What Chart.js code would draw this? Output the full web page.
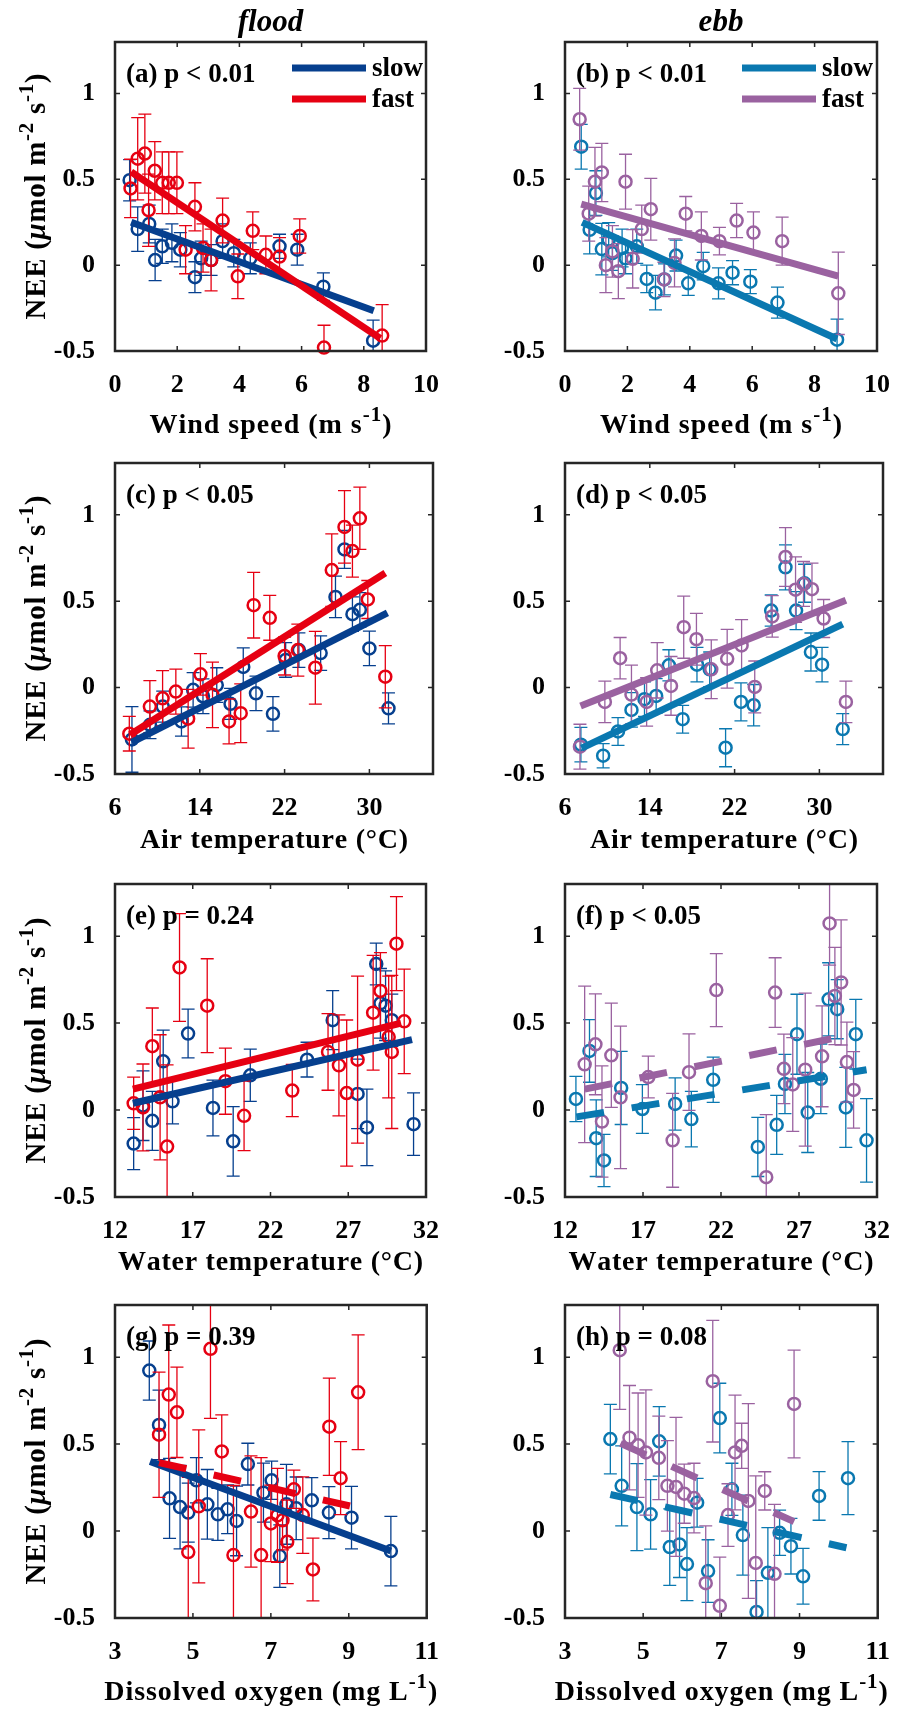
<!DOCTYPE html>
<html>
<head>
<meta charset="utf-8">
<script src="https://cdn.jsdelivr.net/npm/chart.js@4/dist/chart.umd.min.js"></script>
<style>
  body { margin: 0; background: #fff; }
  #wrap { position: relative; width: 901px; height: 1711px; }
  #wrap canvas { position: absolute; }
</style>
</head>
<body>
<div id="wrap"></div>
<script>
// ---- tick labels ----
const yTicks = [-0.5, 0, 0.5, 1];
const windTicks = [0, 2, 4, 6, 8, 10];
const airTicks = [6, 14, 22, 30];
const waterTicks = [12, 17, 22, 27, 32];
const doTicks = [3, 5, 7, 9, 11];

// ---- (a) flood, wind speed ----
const aSlowX = [0.47, 0.73, 1.1, 1.29, 1.52, 1.83, 2.1, 2.57, 2.77, 3.09, 3.46, 3.82, 4.35, 5.29, 5.86, 6.70, 8.3];
const aSlowY = [0.495, 0.21, 0.24, 0.03, 0.11, 0.13, 0.09, -0.07, 0.04, 0.03, 0.14, 0.07, 0.04, 0.11, 0.09, -0.125, -0.44];
const aSlowE = [0.12, 0.13, 0.11, 0.12, 0.1, 0.11, 0.1, 0.09, 0.1, 0.09, 0.1, 0.08, 0.09, 0.07, 0.09, 0.08, 0.12];
const aFastX = [0.5, 0.73, 0.96, 1.08, 1.28, 1.52, 1.73, 1.99, 2.27, 2.57, 2.83, 3.09, 3.46, 3.95, 4.43, 4.85, 5.29, 5.94, 6.72, 8.59];
const aFastY = [0.447, 0.62, 0.65, 0.32, 0.55, 0.48, 0.48, 0.48, 0.09, 0.34, 0.10, 0.03, 0.26, -0.065, 0.2, 0.06, 0.05, 0.17, -0.48, -0.41];
const aFastE = [0.17, 0.24, 0.23, 0.21, 0.17, 0.18, 0.18, 0.18, 0.14, 0.14, 0.14, 0.18, 0.13, 0.13, 0.11, 0.11, 0.11, 0.1, 0.13, 0.18];
const aSlowFitX = [0.52, 8.32], aSlowFitY = [0.25, -0.266];
const aFastFitX = [0.52, 8.53], aFastFitY = [0.543, -0.426];

// ---- (b) ebb, wind speed ----
const bSlowX = [0.52, 0.79, 0.99, 1.18, 1.4, 1.52, 1.83, 1.94, 2.30, 2.62, 2.90, 3.19, 3.56, 3.95, 4.43, 4.92, 5.37, 5.94, 6.81, 8.72];
const bSlowY = [0.69, 0.206, 0.42, 0.094, 0.148, 0.07, 0.10, 0.04, 0.11, -0.08, -0.16, -0.083, 0.056, -0.106, -0.006, -0.106, -0.044, -0.096, -0.218, -0.434];
const bSlowE = [0.13, 0.14, 0.13, 0.15, 0.1, 0.1, 0.11, 0.09, 0.1, 0.08, 0.1, 0.09, 0.09, 0.07, 0.08, 0.09, 0.07, 0.07, 0.09, 0.12];
const bFastX = [0.47, 0.76, 0.96, 1.18, 1.31, 1.52, 1.71, 1.94, 2.17, 2.46, 2.75, 3.17, 3.51, 3.87, 4.37, 4.95, 5.50, 6.04, 6.96, 8.76];
const bFastY = [0.85, 0.30, 0.486, 0.54, 0.0, 0.08, -0.035, 0.486, 0.037, 0.21, 0.326, -0.083, 0.013, 0.30, 0.17, 0.14, 0.26, 0.19, 0.14, -0.164];
const bFastE = [0.18, 0.16, 0.2, 0.17, 0.16, 0.15, 0.16, 0.16, 0.17, 0.14, 0.18, 0.1, 0.14, 0.1, 0.14, 0.08, 0.1, 0.12, 0.14, 0.24];
const bSlowFitX = [0.55, 8.72], bSlowFitY = [0.249, -0.43];
const bFastFitX = [0.52, 8.76], bFastFitY = [0.356, -0.064];

// ---- (c) flood, air temperature ----
const cSlowX = [7.6, 9.3, 10.5, 12.27, 13.37, 14.3, 15.6, 16.9, 18.1, 19.3, 20.9, 22.1, 23.35, 25.4, 26.8, 27.65, 28.4, 29.1, 30.0, 31.8];
const cSlowY = [-0.3, -0.215, -0.11, -0.196, -0.013, -0.05, 0.015, -0.094, 0.12, -0.033, -0.152, 0.16, 0.217, 0.2, 0.525, 0.80, 0.425, 0.45, 0.227, -0.12];
const cSlowE = [0.19, 0.08, 0.09, 0.085, 0.1, 0.1, 0.1, 0.09, 0.11, 0.1, 0.1, 0.1, 0.1, 0.1, 0.12, 0.11, 0.1, 0.1, 0.1, 0.09];
const cFastX = [7.35, 9.29, 10.49, 11.74, 12.9, 14.06, 15.2, 16.76, 17.86, 19.08, 20.6, 22.0, 23.25, 24.9, 26.45, 27.65, 28.4, 29.1, 29.85, 31.5];
const cFastY = [-0.267, -0.11, -0.062, -0.023, -0.18, 0.077, -0.042, -0.196, -0.148, 0.477, 0.404, 0.183, 0.217, 0.115, 0.68, 0.93, 0.79, 0.98, 0.51, 0.063];
const cFastE = [0.1, 0.15, 0.16, 0.13, 0.17, 0.12, 0.19, 0.13, 0.17, 0.19, 0.13, 0.11, 0.15, 0.21, 0.21, 0.21, 0.15, 0.18, 0.11, 0.18];
const cSlowFitX = [7.57, 31.7], cSlowFitY = [-0.317, 0.433];
const cFastFitX = [7.41, 31.5], cFastFitY = [-0.273, 0.663];

// ---- (d) ebb, air temperature ----
const dSlowX = [7.5, 9.6, 11.0, 12.27, 13.5, 14.6, 15.8, 17.1, 18.45, 19.65, 21.15, 22.6, 23.8, 25.45, 26.8, 27.8, 28.6, 29.2, 30.25, 32.2];
const dSlowY = [-0.33, -0.394, -0.254, -0.129, -0.067, -0.048, 0.129, -0.183, 0.133, 0.106, -0.348, -0.083, -0.102, 0.446, 0.696, 0.446, 0.604, 0.206, 0.133, -0.24];
const dSlowE = [0.1, 0.07, 0.08, 0.1, 0.1, 0.1, 0.09, 0.08, 0.1, 0.1, 0.11, 0.11, 0.12, 0.09, 0.13, 0.11, 0.11, 0.11, 0.1, 0.09];
const dFastX = [7.41, 9.76, 11.2, 12.27, 13.7, 14.7, 16.0, 17.2, 18.4, 19.8, 21.3, 22.66, 23.9, 25.55, 26.8, 27.75, 28.5, 29.3, 30.4, 32.5];
const dFastY = [-0.342, -0.083, 0.17, -0.04, -0.083, 0.1, 0.01, 0.35, 0.28, 0.106, 0.167, 0.244, 0.004, 0.412, 0.756, 0.567, 0.6, 0.57, 0.4, -0.083];
const dFastE = [0.13, 0.12, 0.12, 0.17, 0.14, 0.16, 0.17, 0.18, 0.15, 0.17, 0.17, 0.15, 0.15, 0.12, 0.17, 0.19, 0.13, 0.15, 0.11, 0.12];
const dSlowFitX = [7.57, 32.2], dSlowFitY = [-0.35, 0.367];
const dFastFitX = [7.47, 32.5], dFastFitY = [-0.106, 0.506];

// ---- (e) flood, water temperature ----
const eSlowX = [13.2, 13.8, 14.4, 15.1, 15.7, 16.7, 18.3, 19.6, 20.7, 24.35, 26.0, 27.6, 28.2, 28.8, 29.07, 29.4, 29.8, 31.2];
const eSlowY = [-0.193, 0.025, -0.062, 0.28, 0.05, 0.44, 0.012, -0.18, 0.2, 0.29, 0.517, 0.093, -0.1, 0.84, 0.614, 0.60, 0.517, -0.081];
const eSlowE = [0.15, 0.2, 0.17, 0.18, 0.13, 0.14, 0.16, 0.2, 0.15, 0.1, 0.17, 0.2, 0.22, 0.12, 0.2, 0.2, 0.15, 0.18];
const eFastX = [13.2, 13.8, 14.4, 14.9, 15.35, 16.15, 17.93, 19.1, 20.3, 23.4, 25.7, 26.4, 26.9, 27.6, 28.6, 29.07, 29.6, 29.8, 30.1, 30.6];
const eFastY = [0.039, 0.015, 0.367, 0.073, -0.21, 0.82, 0.60, 0.166, -0.033, 0.112, 0.334, 0.257, 0.098, 0.29, 0.56, 0.685, 0.42, 0.334, 0.957, 0.51];
const eFastE = [0.15, 0.25, 0.22, 0.36, 0.47, 0.31, 0.27, 0.19, 0.2, 0.15, 0.22, 0.29, 0.42, 0.48, 0.33, 0.22, 0.35, 0.44, 0.27, 0.3];
const eSlowFitX = [13.15, 31.1], eSlowFitY = [0.039, 0.405];
const eFastFitX = [13.15, 30.4], eFastFitY = [0.12, 0.50];

// ---- (f) ebb, water temperature ----
const fSlowX = [12.7, 13.57, 14.0, 14.5, 15.6, 16.96, 19.06, 20.1, 21.5, 24.36, 25.57, 26.1, 26.87, 27.56, 28.4, 28.9, 29.45, 30.0, 30.64, 31.33];
const fSlowY = [0.064, 0.34, -0.162, -0.29, 0.127, 0.006, 0.035, -0.052, 0.174, -0.212, -0.085, 0.15, 0.436, -0.014, 0.18, 0.637, 0.58, 0.015, 0.436, -0.174];
const fSlowE = [0.13, 0.18, 0.22, 0.15, 0.21, 0.14, 0.15, 0.16, 0.13, 0.17, 0.17, 0.17, 0.23, 0.23, 0.2, 0.21, 0.17, 0.23, 0.2, 0.24];
const fFastX = [13.26, 13.95, 14.37, 14.97, 15.56, 17.34, 18.9, 19.95, 21.7, 24.9, 25.47, 26.03, 26.6, 27.4, 28.48, 28.96, 29.3, 29.7, 30.07, 30.5];
const fFastY = [0.263, 0.378, -0.066, 0.315, 0.073, 0.19, -0.174, 0.218, 0.69, -0.386, 0.676, 0.237, 0.147, 0.232, 0.309, 1.073, 0.656, 0.734, 0.276, 0.116];
const fFastE = [0.45, 0.29, 0.32, 0.3, 0.41, 0.12, 0.27, 0.22, 0.21, 0.36, 0.2, 0.2, 0.27, 0.44, 0.29, 0.24, 0.28, 0.36, 0.23, 0.22];
const fSlowFitX = [12.73, 31.33], fSlowFitY = [-0.039, 0.232];
const fFastFitX = [13.26, 29.07], fFastFitY = [0.12, 0.41];

// ---- (g) flood, dissolved oxygen ----
const gSlowX = [3.88, 4.13, 4.4, 4.67, 4.88, 5.09, 5.37, 5.64, 5.89, 6.12, 6.41, 6.81, 7.02, 7.23, 7.4, 7.65, 8.05, 8.49, 9.07, 10.08];
const gSlowY = [0.923, 0.61, 0.188, 0.138, 0.106, 0.292, 0.154, 0.096, 0.125, 0.058, 0.385, 0.221, 0.292, -0.144, 0.154, 0.131, 0.177, 0.106, 0.077, -0.115];
const gSlowE = [0.17, 0.2, 0.23, 0.24, 0.17, 0.13, 0.2, 0.15, 0.14, 0.2, 0.12, 0.17, 0.11, 0.18, 0.23, 0.18, 0.13, 0.15, 0.18, 0.2];
const gFastX = [4.13, 4.38, 4.59, 4.88, 5.15, 5.45, 5.74, 6.04, 6.49, 6.75, 7.0, 7.17, 7.3, 7.42, 7.59, 7.82, 8.08, 8.5, 8.79, 9.24];
const gFastY = [0.554, 0.785, 0.683, -0.121, 0.142, 1.048, 0.458, -0.138, 0.112, -0.138, 0.044, 0.09, 0.062, -0.062, 0.24, 0.092, -0.221, 0.6, 0.304, 0.798];
const gFastE = [0.36, 0.4, 0.26, 0.43, 0.44, 0.4, 0.21, 0.4, 0.32, 0.56, 0.22, 0.27, 0.17, 0.24, 0.11, 0.22, 0.18, 0.28, 0.21, 0.33];
const gSlowFitX = [3.9, 10.08], gSlowFitY = [0.4, -0.115];
const gFastFitX = [4.13, 9.03], gFastFitY = [0.394, 0.144];

// ---- (h) ebb, dissolved oxygen ----
const hSlowX = [4.16, 4.45, 4.84, 5.19, 5.41, 5.68, 5.93, 6.12, 6.38, 6.66, 6.96, 7.27, 7.55, 7.9, 8.19, 8.49, 8.78, 9.09, 9.5, 10.24];
const hSlowY = [0.529, 0.26, 0.138, 0.096, 0.516, -0.092, -0.077, -0.19, 0.163, -0.23, 0.65, 0.24, -0.023, -0.465, -0.24, -0.01, -0.087, -0.26, 0.202, 0.304];
const hSlowE = [0.2, 0.23, 0.25, 0.2, 0.2, 0.22, 0.19, 0.21, 0.14, 0.18, 0.2, 0.15, 0.23, 0.18, 0.26, 0.13, 0.16, 0.16, 0.14, 0.21];
const hFastX = [4.4, 4.65, 4.87, 5.07, 5.4, 5.62, 5.84, 6.05, 6.3, 6.6, 6.78, 6.96, 7.17, 7.35, 7.52, 7.69, 7.88, 8.11, 8.36, 8.86];
const hFastY = [1.04, 0.537, 0.494, 0.452, 0.421, 0.26, 0.254, 0.215, 0.19, -0.3, 0.862, -0.43, 0.092, 0.452, 0.49, 0.173, -0.183, 0.231, -0.246, 0.731];
const hFastE = [0.34, 0.3, 0.3, 0.36, 0.24, 0.26, 0.4, 0.17, 0.2, 0.33, 0.35, 0.28, 0.18, 0.33, 0.13, 0.56, 0.5, 0.11, 0.4, 0.31];
const hSlowFitX = [4.16, 10.2], hSlowFitY = [0.21, -0.096];
const hFastFitX = [4.42, 8.86], hFastFitY = [0.504, 0.054];

// colours
const floodSlow = '#063f8e';
const floodFast = '#e60012';
const ebbSlow = '#0a78b0';
const ebbFast = '#9a62a0';

const FONT = '"Liberation Serif", "Times New Roman", serif';
const pts = (xs, ys) => xs.map((x, i) => ({ x: x, y: ys[i] }));

// axis titles: parts plus the width they take in the figure
const windTitle = { w: 242, parts: [{ t: 'Wind speed (m s' }, { t: '-1', sup: true }, { t: ')' }] };
const airTitle = { w: 268, parts: [{ t: 'Air temperature (°C)' }] };
const waterTitle = { w: 305, parts: [{ t: 'Water temperature (°C)' }] };
const doTitle = { w: 333, parts: [{ t: 'Dissolved oxygen (mg L' }, { t: '-1', sup: true }, { t: ')' }] };
const neeTitle = { w: 246, parts: [{ t: 'NEE (' }, { t: 'μ', it: true }, { t: 'mol m' }, { t: '-2', sup: true }, { t: ' s' }, { t: '-1', sup: true }, { t: ')' }] };

const rowTop = [0, 421, 842, 1263];
const rowH = [470, 470, 470, 448];
const plotH = [309, 311, 313, 313];
const titleGap = [82, 74, 73, 82];

const panels = [
  { col: 0, row: 0, xr: [0, 10], xt: windTicks, xTitle: windTitle, label: '(a) p < 0.01', c: [floodSlow, floodFast], legend: true,
    s: [aSlowX, aSlowY, aSlowE, aSlowFitX, aSlowFitY, false], f: [aFastX, aFastY, aFastE, aFastFitX, aFastFitY, false] },
  { col: 1, row: 0, xr: [0, 10], xt: windTicks, xTitle: windTitle, label: '(b) p < 0.01', c: [ebbSlow, ebbFast], legend: true,
    s: [bSlowX, bSlowY, bSlowE, bSlowFitX, bSlowFitY, false], f: [bFastX, bFastY, bFastE, bFastFitX, bFastFitY, false] },
  { col: 0, row: 1, xr: [6, 36], xt: airTicks, xTitle: airTitle, label: '(c) p < 0.05', c: [floodSlow, floodFast],
    s: [cSlowX, cSlowY, cSlowE, cSlowFitX, cSlowFitY, false], f: [cFastX, cFastY, cFastE, cFastFitX, cFastFitY, false] },
  { col: 1, row: 1, xr: [6, 36], xt: airTicks, xTitle: airTitle, label: '(d) p < 0.05', c: [ebbSlow, ebbFast],
    s: [dSlowX, dSlowY, dSlowE, dSlowFitX, dSlowFitY, false], f: [dFastX, dFastY, dFastE, dFastFitX, dFastFitY, false] },
  { col: 0, row: 2, xr: [12, 32], xt: waterTicks, xTitle: waterTitle, label: '(e) p = 0.24', c: [floodSlow, floodFast],
    s: [eSlowX, eSlowY, eSlowE, eSlowFitX, eSlowFitY, false], f: [eFastX, eFastY, eFastE, eFastFitX, eFastFitY, false] },
  { col: 1, row: 2, xr: [12, 32], xt: waterTicks, xTitle: waterTitle, label: '(f) p < 0.05', c: [ebbSlow, ebbFast],
    s: [fSlowX, fSlowY, fSlowE, fSlowFitX, fSlowFitY, true], f: [fFastX, fFastY, fFastE, fFastFitX, fFastFitY, true] },
  { col: 0, row: 3, xr: [3, 11], xt: doTicks, xTitle: doTitle, label: '(g) p = 0.39', c: [floodSlow, floodFast],
    s: [gSlowX, gSlowY, gSlowE, gSlowFitX, gSlowFitY, false], f: [gFastX, gFastY, gFastE, gFastFitX, gFastFitY, true] },
  { col: 1, row: 3, xr: [3, 11], xt: doTicks, xTitle: doTitle, label: '(h) p = 0.08', c: [ebbSlow, ebbFast],
    s: [hSlowX, hSlowY, hSlowE, hSlowFitX, hSlowFitY, true], f: [hFastX, hFastY, hFastE, hFastFitX, hFastFitY, true] }
];

// text with superscripts, spread to a given width, centred on x
function drawRich(ctx, title, x, y, size) {
  const fontOf = p => p.sup ? 'bold ' + Math.round(size * 0.74) + 'px ' + FONT
    : (p.it ? 'italic bold ' : 'bold ') + size + 'px ' + FONT;
  let w = 0, n = 0;
  title.parts.forEach(p => {
    ctx.font = fontOf(p);
    for (const ch of p.t) { w += ctx.measureText(ch).width; n++; }
  });
  const sp = Math.max(0, (title.w - w) / (n - 1));
  let cx = x - (w + sp * (n - 1)) / 2;
  ctx.textAlign = 'left';
  ctx.textBaseline = 'alphabetic';
  title.parts.forEach(p => {
    ctx.font = fontOf(p);
    for (const ch of p.t) {
      ctx.fillText(ch, cx, p.sup ? y - size * 0.42 : y);
      cx += ctx.measureText(ch).width + sp;
    }
  });
}

const decor = {
  id: 'decor',
  beforeDatasetDraw(chart, args) {
    const ds = chart.data.datasets[args.index];
    if (!ds.errors) return;
    const ctx = chart.ctx, ys = chart.scales.y, a = chart.chartArea;
    ctx.save();
    ctx.beginPath();
    ctx.rect(a.left, a.top, a.right - a.left, a.bottom - a.top);
    ctx.clip();
    ctx.strokeStyle = ds.borderColor;
    ctx.lineWidth = 1.3;
    args.meta.data.forEach((pt, i) => {
      const v = ds.data[i].y, e = ds.errors[i];
      const y1 = ys.getPixelForValue(v - e), y2 = ys.getPixelForValue(v + e);
      ctx.beginPath();
      ctx.moveTo(pt.x, y1); ctx.lineTo(pt.x, y2);
      ctx.moveTo(pt.x - 6.5, y1); ctx.lineTo(pt.x + 6.5, y1);
      ctx.moveTo(pt.x - 6.5, y2); ctx.lineTo(pt.x + 6.5, y2);
      ctx.stroke();
    });
    ctx.restore();
  },
  afterDraw(chart) {
    const p = chart.options.plugins.decor.panel;
    const ctx = chart.ctx, a = chart.chartArea, xs = chart.scales.x, ys = chart.scales.y;
    ctx.save();
    // box and inner ticks
    ctx.strokeStyle = '#262626';
    ctx.lineWidth = 1.5;
    ctx.beginPath();
    p.xt.forEach(v => {
      const x = xs.getPixelForValue(v);
      ctx.moveTo(x, a.bottom); ctx.lineTo(x, a.bottom - 5);
      ctx.moveTo(x, a.top); ctx.lineTo(x, a.top + 5);
    });
    yTicks.forEach(v => {
      const y = ys.getPixelForValue(v);
      ctx.moveTo(a.left, y); ctx.lineTo(a.left + 5, y);
      ctx.moveTo(a.right, y); ctx.lineTo(a.right - 5, y);
    });
    ctx.stroke();
    ctx.lineWidth = 2.5;
    ctx.strokeRect(a.left, a.top, a.right - a.left, a.bottom - a.top);

    ctx.fillStyle = '#000';
    // panel label
    ctx.font = 'bold 27px ' + FONT;
    ctx.textAlign = 'left';
    ctx.textBaseline = 'alphabetic';
    ctx.fillText(p.label, a.left + 11, a.top + 40);

    // legend
    if (p.legend) {
      const lx = a.left + 177;
      [['slow', p.c[0], 26], ['fast', p.c[1], 57]].forEach(([name, col, dy]) => {
        ctx.strokeStyle = col;
        ctx.lineWidth = 7;
        ctx.beginPath();
        ctx.moveTo(lx, a.top + dy); ctx.lineTo(lx + 74, a.top + dy);
        ctx.stroke();
        ctx.fillStyle = '#000';
        ctx.font = 'bold 27px ' + FONT;
        ctx.fillText(name, lx + 80, a.top + dy + 8);
      });
    }

    // column headers
    if (p.row === 0) {
      ctx.font = 'italic bold 31px ' + FONT;
      ctx.textAlign = 'center';
      ctx.fillText(p.col === 0 ? 'flood' : 'ebb', (a.left + a.right) / 2, 31);
    }

    // x title
    drawRich(ctx, p.xTitle, (a.left + a.right) / 2, a.bottom + titleGap[p.row], 28);

    // y title
    if (p.col === 0) {
      ctx.translate(45, (a.top + a.bottom) / 2);
      ctx.rotate(-Math.PI / 2);
      drawRich(ctx, neeTitle, 0, 0, 29);
    }
    ctx.restore();
  }
};

const wrap = document.getElementById('wrap');

panels.forEach(p => {
  const W = p.col === 0 ? 450 : 451;
  const H = rowH[p.row];
  const cv = document.createElement('canvas');
  cv.width = W; cv.height = H;
  cv.style.left = (p.col * 450) + 'px';
  cv.style.top = rowTop[p.row] + 'px';
  wrap.appendChild(cv);

  const datasets = [];
  // fits on top (lower order drawn last)
  [[p.f, p.c[1], 0], [p.s, p.c[0], 1]].forEach(([d, col, ord]) => {
    datasets.push({
      data: pts(d[3], d[4]), showLine: true, borderColor: col, borderWidth: 7,
      borderDash: d[5] ? [28, 28] : [], borderCapStyle: 'butt', pointRadius: 0, order: ord
    });
  });
  [[p.f, p.c[1], 2], [p.s, p.c[0], 3]].forEach(([d, col, ord]) => {
    datasets.push({
      data: pts(d[0], d[1]), errors: d[2], borderColor: col, backgroundColor: 'rgba(0,0,0,0)',
      pointRadius: 6, pointBorderWidth: 2.5, pointStyle: 'circle', clip: false, order: ord
    });
  });

  const tickFont = { family: FONT, size: 26, weight: 'bold' };
  new Chart(cv, {
    type: 'scatter',
    data: { datasets: datasets },
    options: {
      responsive: false,
      animation: false,
      devicePixelRatio: 1,
      layout: { padding: { top: 42, right: W - 433, left: 0, bottom: 0 } },
      plugins: { legend: { display: false }, tooltip: { enabled: false }, decor: { panel: p } },
      scales: {
        x: {
          type: 'linear', min: p.xr[0], max: p.xr[1],
          grid: { display: false }, border: { display: false },
          afterBuildTicks: s => { s.ticks = p.xt.map(v => ({ value: v })); },
          afterFit: s => { s.height = H - 42 - plotH[p.row]; },
          ticks: { font: tickFont, color: '#000', padding: 11, autoSkip: false, maxRotation: 0, callback: v => String(v) }
        },
        y: {
          type: 'linear', min: -0.5, max: 1.3,
          grid: { display: false }, border: { display: false },
          afterBuildTicks: s => { s.ticks = yTicks.map(v => ({ value: v })); },
          afterFit: s => { s.width = 115; },
          ticks: { font: tickFont, color: '#000', padding: 12, callback: v => String(v) }
        }
      }
    },
    plugins: [decor]
  });
});
</script>
</body>
</html>
